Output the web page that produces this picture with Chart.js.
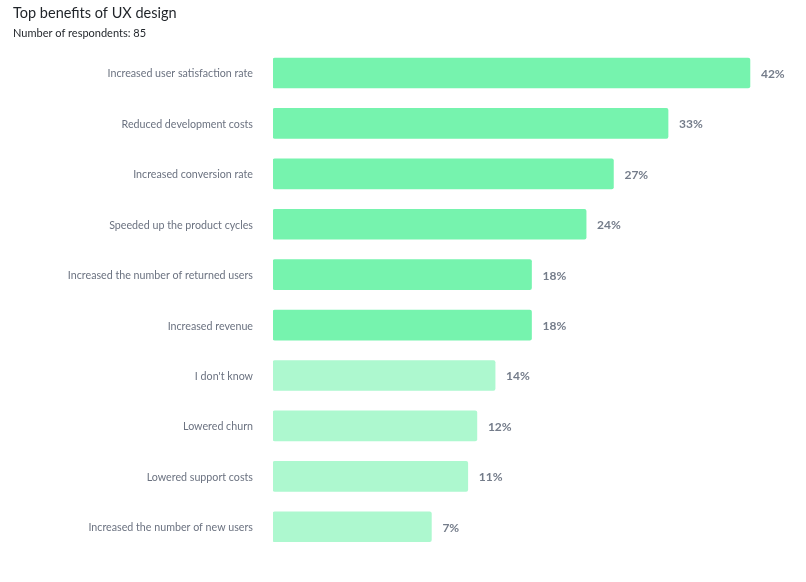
<!DOCTYPE html>
<html>
<head>
<meta charset="utf-8">
<script src="https://cdn.jsdelivr.net/npm/chart.js@4/dist/chart.umd.min.js"></script>
<style>
html,body{margin:0;padding:0;background:#fff;}
#wrap{width:806px;height:582px;}
</style>
</head>
<body>
<div id="wrap"><canvas id="c" width="806" height="582"></canvas></div>
<script>
const categories = [
  "Increased user satisfaction rate",
  "Reduced development costs",
  "Increased conversion rate",
  "Speeded up the product cycles",
  "Increased the number of returned users",
  "Increased revenue",
  "I don't know",
  "Lowered churn",
  "Lowered support costs",
  "Increased the number of new users"
];
const percentages = [42, 33, 27, 24, 18, 18, 14, 12, 11, 7];
const valueLabels = ["42%", "33%", "27%", "24%", "18%", "18%", "14%", "12%", "11%", "7%"];
const highlighted = [true, true, true, true, true, true, false, false, false, false];

const FONT = "Lato, 'Open Sans', sans-serif";
const AXIS_MIN = -10.4;

const valueLabelPlugin = {
  id: 'valueLabels',
  afterDatasetsDraw(chart) {
    const ctx = chart.ctx;
    const meta = chart.getDatasetMeta(0);
    ctx.save();
    ctx.font = "bold 12px " + FONT;
    ctx.fillStyle = "#747c8a";
    ctx.textBaseline = "middle";
    ctx.textAlign = "left";
    meta.data.forEach((bar, i) => {
      ctx.fillText(valueLabels[i], bar.x + 11, bar.y + 1);
    });
    ctx.restore();
  }
};

new Chart(document.getElementById('c'), {
  type: 'bar',
  data: {
    labels: categories,
    datasets: [{
      data: percentages,
      base: AXIS_MIN,
      backgroundColor: highlighted.map(h => h ? '#76f3ae' : '#adf8cf'),
      borderRadius: 2,
      borderSkipped: false,
      barThickness: 30
    }]
  },
  options: {
    indexAxis: 'y',
    responsive: false,
    animation: false,
    devicePixelRatio: 1,
    layout: { padding: { top: 5, left: 13, right: 16, bottom: 30 } },
    plugins: {
      legend: { display: false },
      tooltip: { enabled: false },
      title: {
        display: true,
        text: 'Top benefits of UX design',
        align: 'start',
        color: '#1f2328',
        font: { family: FONT, size: 14.5, weight: 'normal', lineHeight: 1.2 },
        padding: { top: 0, bottom: 4 }
      },
      subtitle: {
        display: true,
        text: 'Number of respondents: 85',
        align: 'start',
        color: '#1f2328',
        font: { family: FONT, size: 11, weight: 'normal', lineHeight: 1.2 },
        padding: { top: 0, bottom: 8.2 }
      }
    },
    scales: {
      x: {
        display: false,
        min: AXIS_MIN,
        max: 46.4
      },
      y: {
        grid: { display: false, drawTicks: false },
        border: { display: false },
        ticks: {
          color: '#6b7280',
          font: { family: FONT, size: 10.7 },
          padding: 20,
          labelOffset: 1,
          autoSkip: false
        },
        afterFit(scale) { scale.width = 260; }
      }
    }
  },
  plugins: [valueLabelPlugin]
});
</script>
</body>
</html>
